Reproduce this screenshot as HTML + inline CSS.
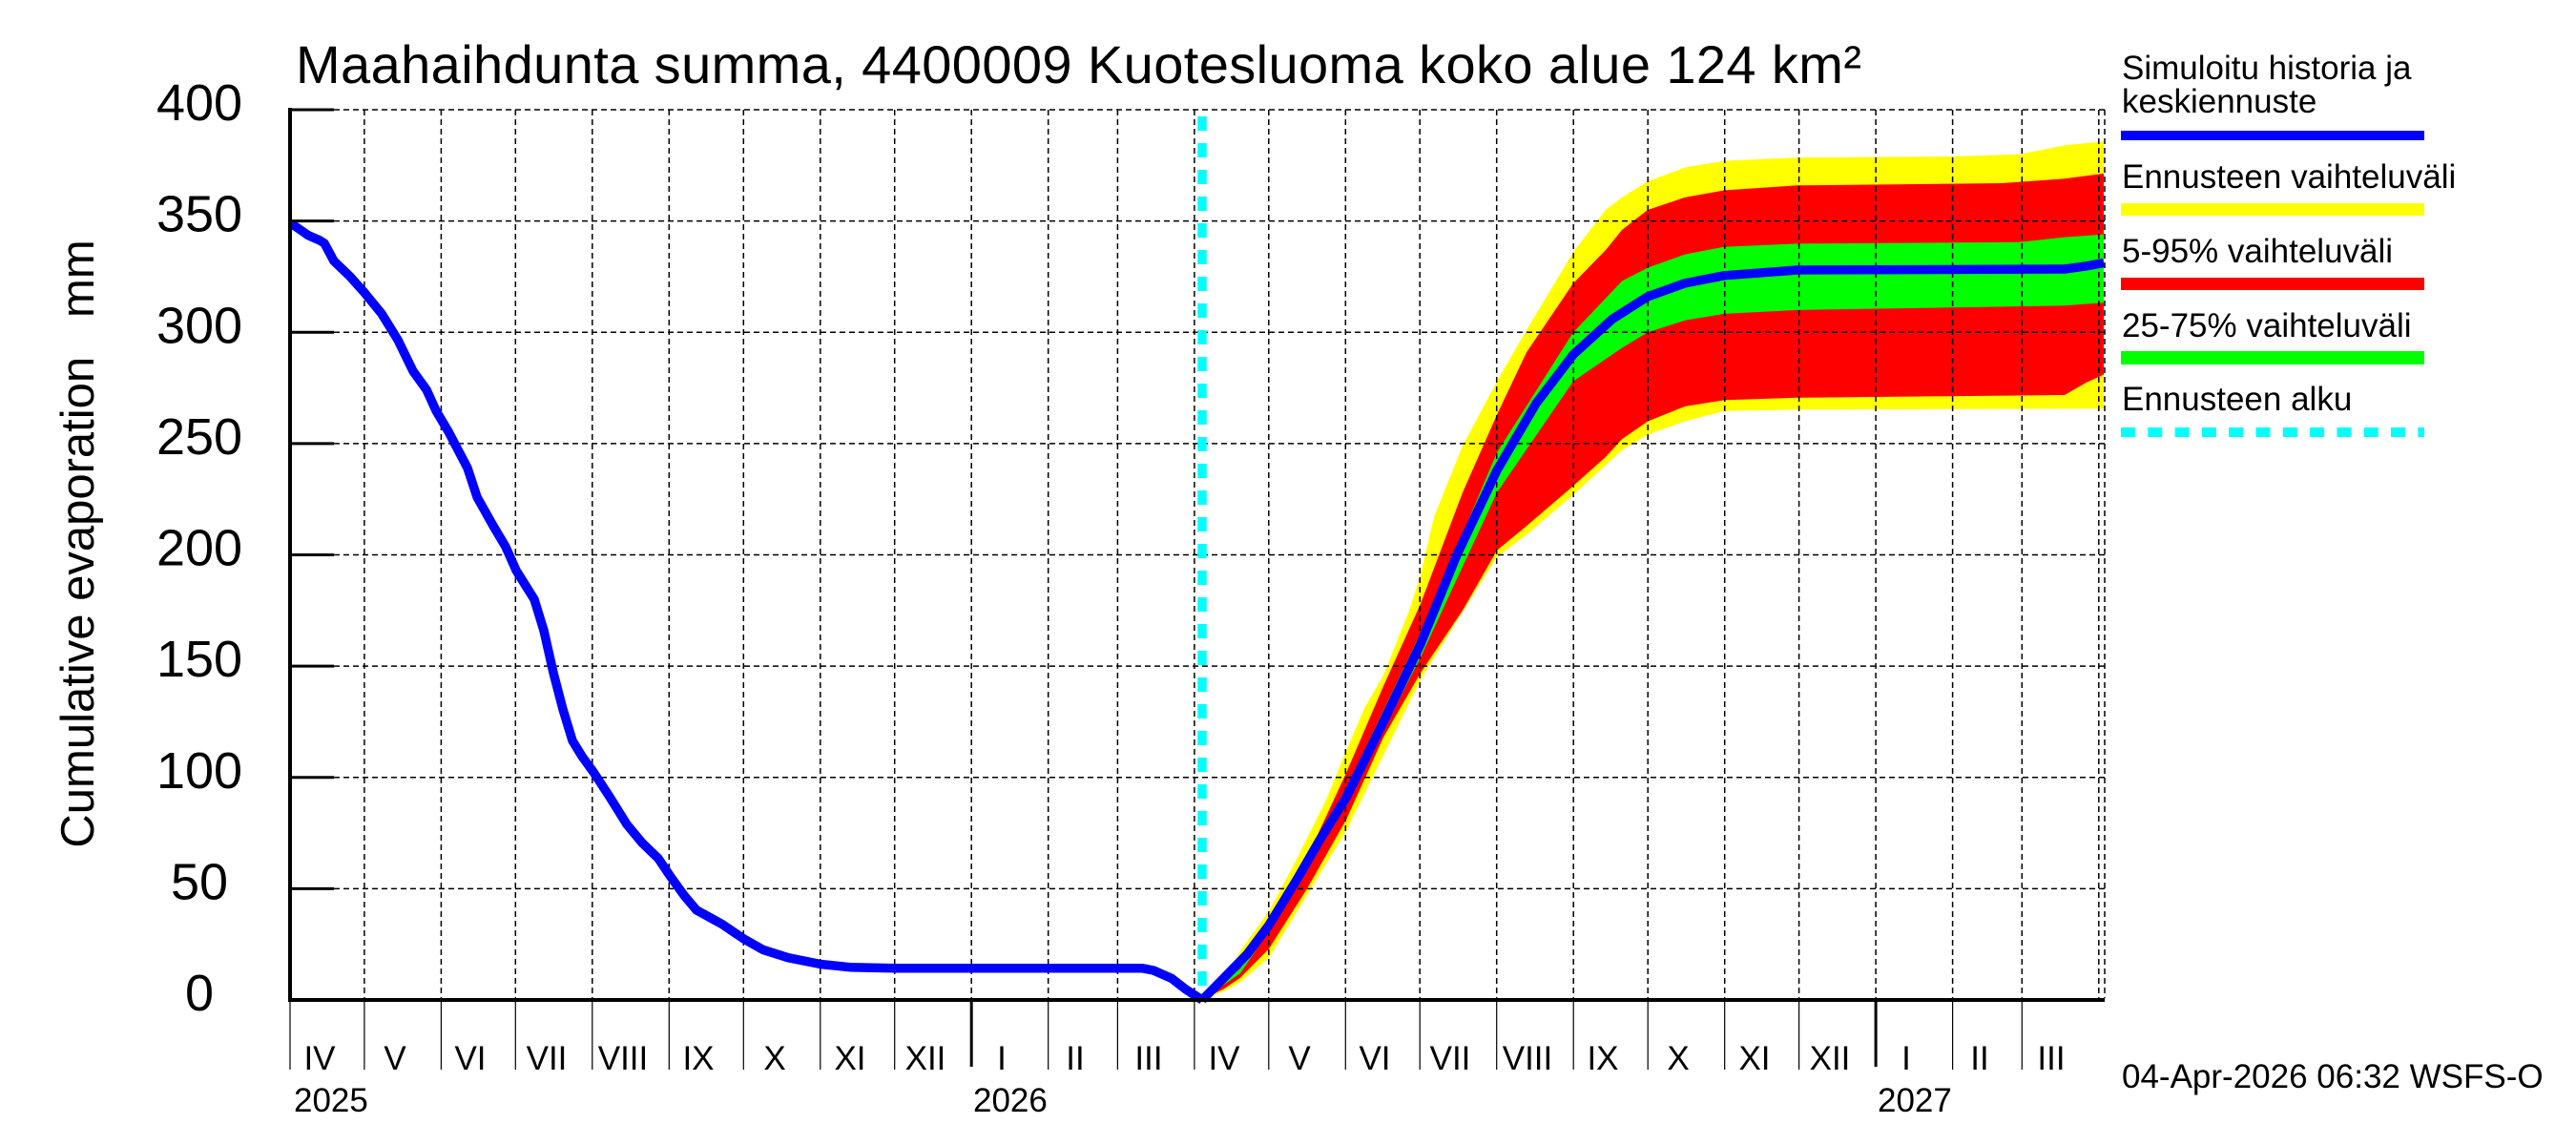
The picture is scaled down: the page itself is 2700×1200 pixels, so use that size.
<!DOCTYPE html>
<html>
<head>
<meta charset="utf-8">
<style>
html,body{margin:0;padding:0;background:#fff;}
svg{display:block;}
text{font-family:"Liberation Sans",Arial,sans-serif;fill:#000;}
</style>
</head>
<body>
<svg width="2700" height="1200" viewBox="0 0 2700 1200" xmlns="http://www.w3.org/2000/svg">
<rect x="0" y="0" width="2700" height="1200" fill="#fff"/>

<!-- Title -->
<text x="310" y="87" font-size="56" textLength="1641" lengthAdjust="spacing">Maahaihdunta summa, 4400009 Kuotesluoma koko alue 124 km²</text>

<!-- Bands -->
<polygon fill="#FFFF00" points="1260,1048 1283,1024.7 1300,996.7 1330,954.7 1360,898.7 1390,838.1 1411,786.8 1430,742.4 1450,707.5 1477,639.8 1489,602.5 1503,541.9 1533,467.2 1569,399.6 1600,345.9 1649,264.3 1683,219.9 1700,206.9 1727,190.1 1766,175.6 1807,168.6 1884,165.1 2045,164 2117,161.7 2164,152.3 2205,148.4 2205,428.3 1884,429.2 1807,430.8 1766,441.5 1727,455.5 1700,471.9 1649,518.5 1600,560.5 1569,583.8 1489,712.1 1411,870.7 1330,1003.7 1300,1029.3 1283,1038.7"/>
<polygon fill="#FF0000" points="1260,1048 1283,1029.3 1300,1008.3 1330,966.4 1370,898.7 1411,810.1 1450,719.1 1489,632.8 1533,516.2 1569,434.6 1600,369.3 1649,296.9 1683,262 1700,241 1727,220 1766,206.9 1807,199.5 1884,194.3 2098,192 2164,187.3 2205,181.9 2205,392.6 2187,400.7 2164,414 1884,416.8 1807,419.4 1766,425.9 1727,441.6 1700,460.2 1683,478.9 1649,509.2 1600,551.2 1569,576.8 1533,639.8 1489,705.1 1450,772.8 1411,859.1 1370,931.4 1330,994.4 1300,1024.7 1283,1036.3"/>
<polygon fill="#00FF00" points="1260,1048 1300,1015.3 1330,966.4 1411,826.4 1489,663.1 1569,474.2 1649,348.3 1700,294.6 1727,280.6 1766,266.6 1807,258.7 1884,255.4 2117,253.8 2164,248.6 2205,245.6 2205,317.2 2164,320.3 1884,324.9 1807,328.9 1766,335.7 1727,348.3 1700,364.6 1649,399.6 1569,516.2 1489,688.8 1411,842.7 1330,975.7 1300,1020"/>

<!-- Grid -->
<path fill="none" stroke="#000" stroke-width="1.5" stroke-dasharray="6,4" d="
M350,115 H2206 M350,231.6 H2206 M350,348.3 H2206 M350,464.9 H2206 M350,581.5 H2206 M350,698.1 H2206 M350,814.8 H2206 M350,931.4 H2206
M381.9,115 V1046 M462.4,115 V1046 M540.3,115 V1046 M620.8,115 V1046 M701.3,115 V1046 M779.3,115 V1046 M859.8,115 V1046 M937.7,115 V1046
M1018.2,115 V1046 M1098.7,115 V1046 M1171.4,115 V1046 M1251.9,115 V1046 M1329.8,115 V1046 M1410.3,115 V1046 M1488.2,115 V1046 M1568.7,115 V1046
M1649.2,115 V1046 M1727.2,115 V1046 M1807.7,115 V1046 M1885.6,115 V1046 M1966.1,115 V1046 M2046.6,115 V1046 M2119.3,115 V1046 M2199.8,115 V1046 M2206,115 V1046"/>

<!-- History line -->
<polyline fill="none" stroke="#0000FF" stroke-width="9.5" stroke-linejoin="round" points="304.7,234 315,241 323,246.6 335,251.9 340,255 350,273.6 367,289.9 382,306.7 400,328.7 417,356.2 433,389.1 447,408.4 457,430.4 470,452.3 490,490.5 500,520.9 517,551.2 530,573.1 541,597.8 560,628.2 570,660.8 580,705.1 590,743.4 600,776.3 610,792.6 622,809.2 640,836.7 657,864 673,883.3 690,899.7 703,919 717,938.4 730,953.8 757,968.7 779,983.6 799.5,995.3 826,1003.7 860,1010.5 891,1013.7 938,1014.7 1197,1014.7 1209,1017 1228,1025.4 1243,1037 1260,1048"/>
<!-- Median forecast -->
<polyline fill="none" stroke="#0000FF" stroke-width="9.5" stroke-linejoin="round" points="1260,1048 1283,1024.7 1307,1000.2 1330,969.6 1360,920.6 1383,880.8 1411,835.7 1450,756.4 1489,674.8 1527,581.5 1569,492.9 1610,422.9 1649,371.6 1690,334.3 1727,310.9 1766,296.9 1807,288.8 1884,283 2164,282 2187,278.8 2205,275.5"/>

<!-- Forecast start -->
<line x1="1260" y1="122" x2="1260" y2="1048" stroke="#00FFFF" stroke-width="9.5" stroke-dasharray="15,13"/>

<!-- Axes -->
<line x1="304" y1="113" x2="304" y2="1050" stroke="#000" stroke-width="4"/>
<line x1="302" y1="1048" x2="2206" y2="1048" stroke="#000" stroke-width="4"/>
<path stroke="#000" stroke-width="3" d="M304,115 H350 M304,231.6 H350 M304,348.3 H350 M304,464.9 H350 M304,581.5 H350 M304,698.1 H350 M304,814.8 H350 M304,931.4 H350"/>

<!-- Month ticks below axis -->
<path stroke="#000" stroke-width="1.2" d="M304,1048 V1121 M381.9,1048 V1121 M462.4,1048 V1121 M540.3,1048 V1121 M620.8,1048 V1121 M701.3,1048 V1121 M779.3,1048 V1121 M859.8,1048 V1121 M937.7,1048 V1121
M1098.7,1048 V1121 M1171.4,1048 V1121 M1251.9,1048 V1121 M1329.8,1048 V1121 M1410.3,1048 V1121 M1488.2,1048 V1121 M1568.7,1048 V1121
M1649.2,1048 V1121 M1727.2,1048 V1121 M1807.7,1048 V1121 M1885.6,1048 V1121 M2046.6,1048 V1121 M2119.3,1048 V1121"/>
<path stroke="#000" stroke-width="3" d="M1018.2,1048 V1118 M1966.1,1048 V1118"/>

<!-- Y tick labels -->
<g font-size="54" text-anchor="middle">
<text x="209" y="126">400</text>
<text x="209" y="242.6">350</text>
<text x="209" y="359.3">300</text>
<text x="209" y="475.9">250</text>
<text x="209" y="592.5">200</text>
<text x="209" y="709.1">150</text>
<text x="209" y="825.8">100</text>
<text x="209" y="942.4">50</text>
<text x="209" y="1059">0</text>
</g>

<!-- Y axis label -->
<text x="98" y="570" font-size="49" text-anchor="middle" transform="rotate(-90 98 570)" xml:space="preserve">Cumulative evaporation   mm</text>

<!-- Month labels -->
<g font-size="35" text-anchor="middle">
<text x="335" y="1121">IV</text>
<text x="414" y="1121">V</text>
<text x="493" y="1121">VI</text>
<text x="573" y="1121">VII</text>
<text x="653" y="1121">VIII</text>
<text x="732" y="1121">IX</text>
<text x="812" y="1121">X</text>
<text x="891" y="1121">XI</text>
<text x="970" y="1121">XII</text>
<text x="1050" y="1121">I</text>
<text x="1127" y="1121">II</text>
<text x="1204" y="1121">III</text>
<text x="1283" y="1121">IV</text>
<text x="1362" y="1121">V</text>
<text x="1441" y="1121">VI</text>
<text x="1520" y="1121">VII</text>
<text x="1601" y="1121">VIII</text>
<text x="1680" y="1121">IX</text>
<text x="1759" y="1121">X</text>
<text x="1839" y="1121">XI</text>
<text x="1918" y="1121">XII</text>
<text x="1998" y="1121">I</text>
<text x="2075" y="1121">II</text>
<text x="2150" y="1121">III</text>
</g>
<g font-size="35">
<text x="308" y="1165">2025</text>
<text x="1020" y="1165">2026</text>
<text x="1968" y="1165">2027</text>
<text x="2224" y="1140">04-Apr-2026 06:32 WSFS-O</text>
</g>

<!-- Legend -->
<g font-size="35">
<text x="2224" y="83">Simuloitu historia ja</text>
<text x="2224" y="118">keskiennuste</text>
<text x="2224" y="197">Ennusteen vaihteluväli</text>
<text x="2224" y="275">5-95% vaihteluväli</text>
<text x="2224" y="353">25-75% vaihteluväli</text>
<text x="2224" y="430">Ennusteen alku</text>
</g>
<rect x="2223" y="137" width="318" height="10" fill="#0000FF"/>
<rect x="2223" y="213" width="318" height="13" fill="#FFFF00"/>
<rect x="2223" y="291" width="318" height="13" fill="#FF0000"/>
<rect x="2223" y="368" width="318" height="14" fill="#00FF00"/>
<line x1="2223" y1="453" x2="2541" y2="453" stroke="#00FFFF" stroke-width="10" stroke-dasharray="15,13.3"/>
</svg>
</body>
</html>
